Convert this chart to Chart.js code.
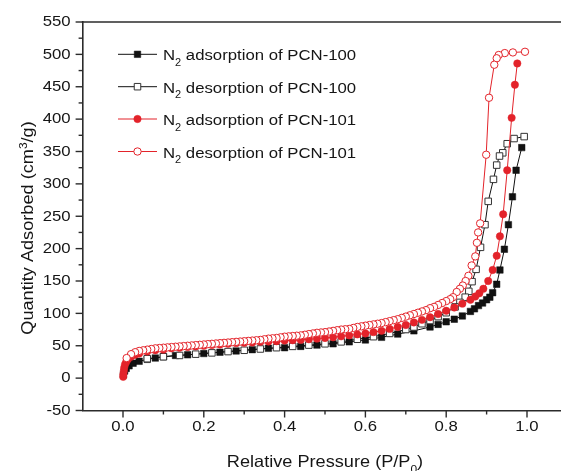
<!DOCTYPE html>
<html>
<head>
<meta charset="utf-8">
<script src="https://cdn.jsdelivr.net/npm/chart.js@4/dist/chart.umd.min.js"></script>
<style>
  html, body { margin: 0; padding: 0; background: #fff; overflow: hidden; }
  #wrap { width: 580px; height: 471px; }
</style>
</head>
<body>
<div id="wrap"><canvas id="chart" width="580" height="471"></canvas></div>
<script>
// series names (legend) and axis texts
const seriesNames = ['N₂ adsorption of PCN-100', 'N₂ desorption of PCN-100', 'N₂ adsorption of PCN-101', 'N₂ desorption of PCN-101'];
const xTitle = 'Relative Pressure (P/P₀)';
const yTitle = 'Quantity Adsorbed (cm³/g)';
const xTickValues = [0, 0.2, 0.4, 0.6, 0.8, 1.0];
const xTickLabels = ['0.0', '0.2', '0.4', '0.6', '0.8', '1.0'];
const xMinorValues = [0.1, 0.3, 0.5, 0.7, 0.9];
const yTickValues = [-50, 0, 50, 100, 150, 200, 250, 300, 350, 400, 450, 500, 550];
const yMinorValues = [-25, 25, 75, 125, 175, 225, 275, 325, 375, 425, 475, 525];

// PCN-100 adsorption (filled squares)
const ads100X = [0.001, 0.004, 0.008, 0.015, 0.025, 0.04, 0.06, 0.08, 0.10, 0.13, 0.16, 0.20, 0.24, 0.28, 0.32, 0.36, 0.40, 0.44, 0.48, 0.52, 0.56, 0.60, 0.64, 0.68, 0.72, 0.76, 0.78, 0.80, 0.82, 0.84, 0.86, 0.87, 0.88, 0.89, 0.90, 0.908, 0.915, 0.925, 0.933, 0.944, 0.954, 0.964, 0.973, 0.987];
const ads100Y = [5, 11, 15, 19, 23, 26, 29, 31, 33, 35, 36, 38, 40, 42, 44, 46, 47, 49, 51, 53, 56, 59, 63, 68, 73, 79, 83, 87, 91, 96, 103, 107, 112, 116, 121, 125, 132, 145, 167, 199, 237, 280, 321, 356];

// PCN-100 desorption (open squares)
const des100X = [0.993, 0.968, 0.951, 0.940, 0.932, 0.925, 0.917, 0.904, 0.896, 0.885, 0.874, 0.864, 0.856, 0.847, 0.834, 0.822, 0.80, 0.78, 0.76, 0.74, 0.72, 0.70, 0.66, 0.62, 0.58, 0.54, 0.50, 0.46, 0.42, 0.38, 0.34, 0.30, 0.26, 0.22, 0.18, 0.14, 0.10, 0.06];
const des100Y = [373, 370, 362, 348, 343, 329, 307, 273, 237, 202, 168, 149, 134, 125, 117, 110, 101, 95, 89, 84, 79, 75, 69, 64, 60, 56, 53, 51, 49, 47, 45, 43, 41, 39, 37, 35, 33, 30];

// PCN-101 adsorption (filled circles)
const ads101X = [0.0005, 0.001, 0.002, 0.003, 0.005, 0.008, 0.012, 0.02, 0.03, 0.04, 0.06, 0.08, 0.10, 0.12, 0.14, 0.16, 0.18, 0.20, 0.22, 0.24, 0.26, 0.28, 0.30, 0.32, 0.34, 0.36, 0.38, 0.40, 0.42, 0.44, 0.46, 0.48, 0.50, 0.52, 0.54, 0.56, 0.58, 0.60, 0.62, 0.64, 0.66, 0.68, 0.70, 0.72, 0.74, 0.76, 0.78, 0.80, 0.82, 0.84, 0.86, 0.872, 0.882, 0.892, 0.904, 0.915, 0.925, 0.933, 0.941, 0.951, 0.962, 0.970, 0.976];
const ads101Y = [2, 6, 11, 16, 21, 25, 29, 33, 36, 38, 41, 43, 44, 46, 47, 48, 49, 50, 51, 52, 53, 54, 54.5, 55, 56, 56.5, 57, 58, 58.5, 59, 60, 61, 62, 63, 64.5, 66, 67.5, 69, 71, 73, 76, 79, 82, 86, 90, 94, 99, 104, 109, 115, 121, 126, 131, 138, 150, 167, 189, 219, 253, 321, 402, 453, 486];

// PCN-101 desorption (open circles)
const des101X = [0.995, 0.965, 0.945, 0.930, 0.925, 0.919, 0.906, 0.899, 0.884, 0.879, 0.876, 0.872, 0.863, 0.855, 0.848, 0.841, 0.834, 0.826, 0.817,
  0.81, 0.80, 0.79, 0.78, 0.77, 0.76, 0.75, 0.74, 0.73, 0.72, 0.71, 0.70, 0.69, 0.68, 0.67, 0.66, 0.65, 0.64, 0.63, 0.62, 0.61,
  0.60, 0.59, 0.58, 0.57, 0.56, 0.55, 0.54, 0.53, 0.52, 0.51, 0.50, 0.49, 0.48, 0.47, 0.46, 0.45, 0.44, 0.43, 0.42, 0.41,
  0.40, 0.39, 0.38, 0.37, 0.36, 0.35, 0.34, 0.33, 0.32, 0.31, 0.30, 0.29, 0.28, 0.27, 0.26, 0.25, 0.24, 0.23, 0.22, 0.21,
  0.20, 0.19, 0.18, 0.17, 0.16, 0.15, 0.14, 0.13, 0.12, 0.11, 0.10, 0.09, 0.08, 0.07, 0.06, 0.05, 0.04, 0.03, 0.02, 0.009];
const des101Y = [504, 503, 502, 499, 494, 484, 433, 345, 239, 225, 209, 188, 174, 158, 150, 143, 138, 133, 125,
  122, 119, 116, 113, 110, 108, 105, 103, 101, 99, 97, 95, 93, 91, 89.5, 88, 86.5, 85, 84, 83, 82,
  81, 80, 79, 77.5, 76, 75.5, 75, 74, 73, 72, 71, 70.5, 70, 69, 68, 67, 66, 65.5, 65, 64.5,
  64, 63, 62, 61.5, 61, 60, 59, 58.5, 58, 57.5, 57, 56.5, 56, 55.5, 55, 54.5, 54, 53.5, 53, 52.5,
  52, 51.5, 51, 50.5, 50, 49.5, 49, 48.5, 48, 47.5, 47, 46.5, 46, 45, 44, 43, 42, 40, 37, 31];

const BLACK = '#111111';
const RED = '#e3232a';
const AXIS = '#2b2b2b';
const TEXT = '#151515';
const FAMILY = '"Liberation Sans", Arial, sans-serif';
const LABEL_FONT = { px: 15.5, sx: 1.08 };   // tick labels and legend
const TITLE_FONT = { px: 16.5, sx: 1.1 };    // axis titles

const pts = (xs, ys) => xs.map((x, i) => ({ x, y: ys[i] }));

// split "N₂", "cm³" etc. into normal / sub / sup runs
function richParts(str) {
  const parts = [];
  for (const ch of str) {
    let kind = 'n', c = ch;
    const si = '₀₁₂₃₄₅₆₇₈₉'.indexOf(ch);
    if (si >= 0) { kind = 'sub'; c = String(si); }
    else if (ch === '³') { kind = 'sup'; c = '3'; }
    const last = parts[parts.length - 1];
    if (last && last.kind === kind) last.t += c; else parts.push({ kind, t: c });
  }
  return parts;
}

function drawRich(ctx, str, x, y, align, f) {
  const parts = richParts(str);
  const fontOf = p => (p.kind === 'n' ? f.px : f.px * 0.66).toFixed(1) + 'px ' + FAMILY;
  const widths = parts.map(p => { ctx.font = fontOf(p); return ctx.measureText(p.t).width * f.sx; });
  const total = widths.reduce((a, b) => a + b, 0);
  let cx = align === 'center' ? x - total / 2 : align === 'right' ? x - total : x;
  parts.forEach((p, i) => {
    ctx.font = fontOf(p);
    const dy = p.kind === 'sub' ? f.px * 0.36 : p.kind === 'sup' ? -f.px * 0.36 : 0;
    ctx.save();
    ctx.translate(cx, y + dy);
    ctx.scale(f.sx, 1);
    ctx.textAlign = 'left';
    ctx.fillText(p.t, 0, 0);
    ctx.restore();
    cx += widths[i];
  });
}

function seg(ctx, x1, y1, x2, y2) {
  ctx.beginPath(); ctx.moveTo(x1, y1); ctx.lineTo(x2, y2); ctx.stroke();
}

function marker(ctx, ds, x, y) {
  ctx.fillStyle = ds.pointBackgroundColor;
  ctx.strokeStyle = ds.pointBorderColor;
  ctx.lineWidth = ds.pointBorderWidth;
  ctx.beginPath();
  if (ds.pointStyle === 'rect') {
    const h = Math.SQRT1_2 * ds.pointRadius;
    ctx.rect(x - h, y - h, 2 * h, 2 * h);
  } else {
    ctx.arc(x, y, ds.pointRadius, 0, Math.PI * 2);
  }
  ctx.fill(); ctx.stroke();
}

const decorations = {
  id: 'decorations',
  afterDraw(chart) {
    const ctx = chart.ctx, a = chart.chartArea;
    const xs = chart.scales.x, ys = chart.scales.y;
    ctx.save();
    ctx.strokeStyle = AXIS;
    ctx.lineWidth = 1.6;
    seg(ctx, a.left - 0.8, a.top, a.right, a.top);

    ctx.fillStyle = TEXT;
    ctx.textBaseline = 'middle';
    ctx.lineWidth = 1.4;
    yTickValues.forEach(v => {
      const p = ys.getPixelForValue(v);
      seg(ctx, a.left - 7, p, a.left, p);
      drawRich(ctx, String(v), a.left - 12, p, 'right', LABEL_FONT);
    });
    yMinorValues.forEach(v => {
      const p = ys.getPixelForValue(v);
      seg(ctx, a.left - 4, p, a.left, p);
    });
    xTickValues.forEach((v, i) => {
      const p = xs.getPixelForValue(v);
      seg(ctx, p, a.bottom, p, a.bottom + 7);
      drawRich(ctx, xTickLabels[i], p, a.bottom + 16, 'center', LABEL_FONT);
    });
    xMinorValues.forEach(v => {
      const p = xs.getPixelForValue(v);
      seg(ctx, p, a.bottom, p, a.bottom + 4);
    });

    // axis titles
    ctx.textBaseline = 'alphabetic';
    drawRich(ctx, xTitle, (a.left + a.right) / 2, 467, 'center', TITLE_FONT);
    ctx.save();
    ctx.translate(33, 228);
    ctx.rotate(-Math.PI / 2);
    drawRich(ctx, yTitle, 0, 0, 'center', TITLE_FONT);
    ctx.restore();

    // legend
    const rows = [54.3, 86.7, 119, 151.5];
    chart.data.datasets.forEach((ds, i) => {
      const ry = rows[i];
      ctx.strokeStyle = ds.borderColor; ctx.lineWidth = 1;
      seg(ctx, 118, ry, 157, ry);
      marker(ctx, ds, 137.5, ry);
      ctx.fillStyle = TEXT;
      drawRich(ctx, seriesNames[i], 163, ry + 6, 'left', LABEL_FONT);
    });
    ctx.restore();
  }
};

new Chart(document.getElementById('chart'), {
  type: 'scatter',
  data: {
    datasets: [
      { label: seriesNames[0], data: pts(ads100X, ads100Y), showLine: true, borderColor: BLACK, borderWidth: 1,
        pointStyle: 'rect', pointRadius: 4.6, pointBackgroundColor: BLACK, pointBorderColor: BLACK, pointBorderWidth: 0.5, order: 4 },
      { label: seriesNames[1], data: pts(des100X, des100Y), showLine: true, borderColor: BLACK, borderWidth: 1,
        pointStyle: 'rect', pointRadius: 4.6, pointBackgroundColor: '#ffffff', pointBorderColor: '#333333', pointBorderWidth: 1, order: 3 },
      { label: seriesNames[2], data: pts(ads101X, ads101Y), showLine: true, borderColor: RED, borderWidth: 1,
        pointStyle: 'circle', pointRadius: 3.7, pointBackgroundColor: RED, pointBorderColor: RED, pointBorderWidth: 0.5, order: 2 },
      { label: seriesNames[3], data: pts(des101X, des101Y), showLine: true, borderColor: RED, borderWidth: 1,
        pointStyle: 'circle', pointRadius: 3.7, pointBackgroundColor: '#ffffff', pointBorderColor: RED, pointBorderWidth: 1, order: 1 }
    ]
  },
  options: {
    responsive: false,
    animation: false,
    layout: { padding: { top: 22, right: 12.6, left: 0, bottom: 0 } },
    plugins: { legend: { display: false }, tooltip: { enabled: false } },
    scales: {
      x: { type: 'linear', min: -0.1, max: 1.1, grid: { display: false },
        border: { color: AXIS, width: 1.6 }, ticks: { display: false },
        afterFit: s => { s.height = 60.5; } },
      y: { type: 'linear', min: -50, max: 550, grid: { display: false },
        border: { color: AXIS, width: 1.6 }, ticks: { display: false },
        afterFit: s => { s.width = 82.6; } }
    }
  },
  plugins: [decorations]
});
</script>
</body>
</html>
